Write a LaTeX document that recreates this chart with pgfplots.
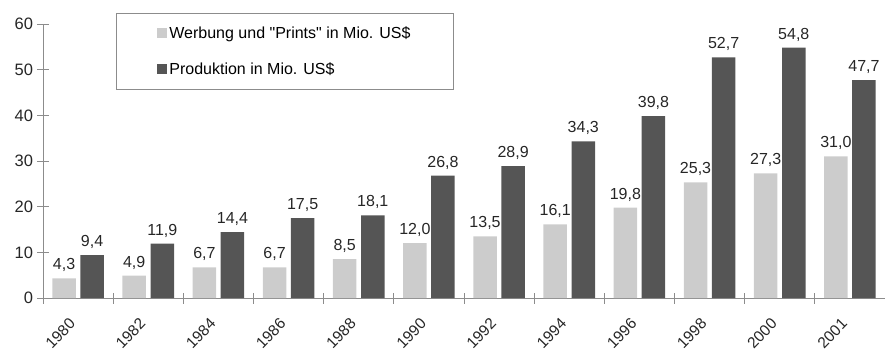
\documentclass[border=0pt]{standalone}
\usepackage{fontspec}
\setmainfont{Liberation Sans}[Ligatures=TeXOff]
\usepackage{pgfplots}
\pgfplotsset{compat=1.18}
\definecolor{lightbar}{HTML}{CCCCCC}
\definecolor{darkbar}{HTML}{555555}
\definecolor{axisgray}{HTML}{8C8C8C}
\begin{document}
\begin{tikzpicture}
\useasboundingbox (-43pt,-53pt) rectangle (842pt,298pt);
\begin{axis}[
  scale only axis,
  width=842pt, height=274pt,
  xmin=-0.5, xmax=11.5,
  ymin=0, ymax=60,
  axis lines*=left,
  axis line style={axisgray, line width=0.8pt},
  ybar, bar width=0.335,
  ytick={0,10,...,60},
  xtick={0,...,11},
  xticklabels={1980,1982,1984,1986,1988,1990,1992,1994,1996,1998,2000,2001},
  minor xtick={-0.5,0.5,...,11.0},
  major x tick style={draw=none},
  minor x tick style={axisgray, line width=0.8pt},
  y tick style={axisgray, line width=0.8pt},
  tick align=center,
  major tick length=11pt, minor tick length=11pt,
  font=\fontsize{16}{19}\selectfont,
  ticklabel style={font=\fontsize{16.5}{19}\selectfont, text=black!85},
  /pgf/number format/assume math mode=true,
  yticklabel style={xshift=-1pt},
  xticklabel style={font=\fontsize{15.5}{18}\selectfont, rotate=46, anchor=east, xshift=-13pt, yshift=-8pt},
  nodes near coords,
  nodes near coords style={font=\fontsize{16}{19}\selectfont, text=black!85, yshift=3pt,
    /pgf/number format/.cd, fixed, fixed zerofill, precision=1, use comma},
  legend style={at={(axis description cs:0.0867,1.04)}, anchor=north west,
    draw=axisgray, line width=0.8pt, inner xsep=41pt, inner ysep=11pt,
    font=\fontsize{16}{19}\selectfont, row sep=19pt,
    /tikz/every even column/.append style={column sep=4pt}},
  legend cell align=left,
  legend image code/.code={\fill[#1] (0pt,-5pt) rectangle (10pt,5pt);},
]
\addplot[fill=lightbar, draw=none, bar shift=-0.2] coordinates {
 (0,4.3) (1,4.9) (2,6.7) (3,6.7) (4,8.5) (5,12.0) (6,13.5) (7,16.1) (8,19.8) (9,25.3) (10,27.3) (11,31.0)};
\addplot[fill=darkbar, draw=none, bar shift=0.2] coordinates {
 (0,9.4) (1,11.9) (2,14.4) (3,17.5) (4,18.1) (5,26.8) (6,28.9) (7,34.3) (8,39.8) (9,52.7) (10,54.8) (11,47.7)};
\legend{Werbung und "Prints" in Mio. US\$, Produktion in Mio. US\$}
\end{axis}
\end{tikzpicture}
\end{document}
